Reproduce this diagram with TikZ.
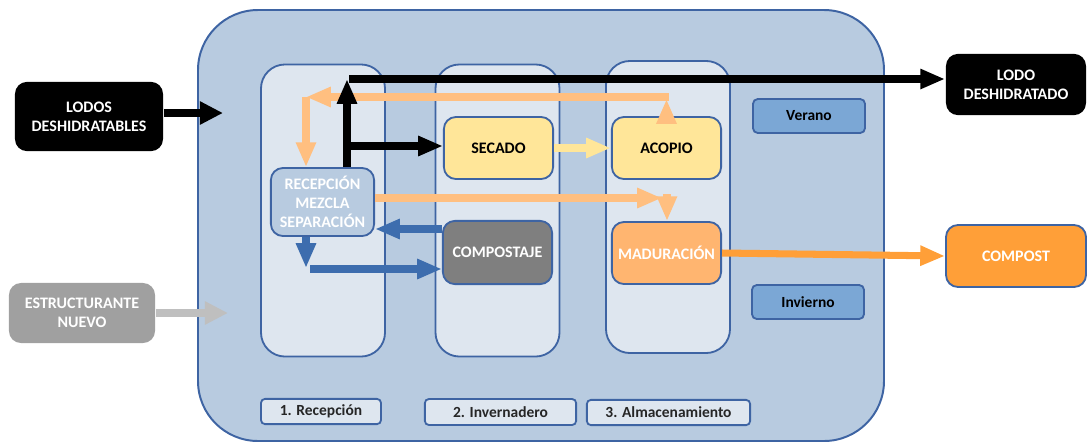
\documentclass[tikz,border=0pt]{standalone}
\usepackage{fontspec}
\setmainfont{Carlito}
\usetikzlibrary{arrows.meta}

\begin{document}
\begin{tikzpicture}[x=0.025cm,y=-0.025cm,
    box/.style={draw=bordeblue,line width=1.3pt,rounded corners=0.3cm,align=center,
      inner sep=0pt,font=\bfseries\fontsize{11.4}{13.5}\selectfont},
    outbox/.style={box,draw=none,text=white},
    colbox/.style={draw=bordeblue,line width=1.3pt,fill=colfill,rounded corners=0.6cm,
      minimum width=3.1cm,minimum height=7.3cm},
    etiqueta/.style={box,fill=colfill,rounded corners=0.1cm,text=black!85,
      font=\bfseries\fontsize{11}{12}\selectfont},
    temporada/.style={box,fill=azulclaro,rounded corners=0.12cm,minimum width=2.8cm,
      minimum height=0.85cm,font=\bfseries\fontsize{11}{12}\selectfont},
    flecha/.style={line width=5pt,-{Triangle[length=0.62cm,width=0.47cm]}},
    gruesa/.style={line width=6pt,-{Triangle[length=0.58cm,width=0.55cm]}}]

  \definecolor{bordeblue}{RGB}{62,100,163}
  \definecolor{fondo}{RGB}{184,203,224}
  \definecolor{colfill}{RGB}{222,230,239}
  \definecolor{amarillo}{RGB}{255,230,153}
  \definecolor{madura}{RGB}{255,181,112}
  \definecolor{naranja}{RGB}{255,159,56}
  \definecolor{naranjaclaro}{RGB}{255,191,128}
  \definecolor{azul}{RGB}{61,109,174}
  \definecolor{azulclaro}{RGB}{123,167,213}
  \definecolor{gris}{RGB}{160,160,160}
  \definecolor{grisclaro}{RGB}{191,191,191}
  \definecolor{grisoscuro}{RGB}{127,127,127}

  \useasboundingbox (0,0) rectangle (1088,443);

  % planta
  \draw[bordeblue,line width=1.4pt,fill=fondo,rounded corners=1.5cm] (198,10) rectangle (884,441);
  \node[colbox] (col1) at (323,210.5) {};
  \node[colbox] (col2) at (497.5,210.5) {};
  \node[colbox] (col3) at (668,207) {};

  % etiquetas de zona
  \node[etiqueta,minimum width=3.0cm,minimum height=0.63cm] (zona1) at (321,411.5) {1. Recepción};
  \node[etiqueta,minimum width=3.78cm,minimum height=0.65cm] (zona2) at (500.5,412) {2. Invernadero};
  \node[etiqueta,minimum width=4.08cm,minimum height=0.63cm] (zona3) at (668.5,412.5) {3. Almacenamiento};

  % entradas y salidas
  \node[outbox,fill=black,minimum width=3.7cm,minimum height=1.73cm] (lodos) at (89,116.5) {LODOS\\DESHIDRATABLES};
  \node[outbox,fill=gris,minimum width=3.65cm,minimum height=1.5cm] (estruct) at (82,313) {ESTRUCTURANTE\\NUEVO};
  \node[outbox,fill=black,minimum width=3.5cm,minimum height=1.53cm] (lodoout) at (1016,84.5) {LODO\\DESHIDRATADO};
  \node[box,fill=naranja,text=white,minimum width=3.5cm,minimum height=1.55cm] (compost) at (1016,256) {COMPOST};

  % temporadas
  \node[temporada] (verano) at (809,116) {Verano};
  \node[temporada] (invierno) at (808,302) {Invierno};

  % procesos
  \node[box,fill=fondo,text=white,minimum width=2.58cm,minimum height=1.7cm] (recep) at (322.5,202) {RECEPCIÓN\\MEZCLA\\SEPARACIÓN};
  \node[box,fill=amarillo,minimum width=2.73cm,minimum height=1.55cm] (secado) at (498.5,148) {SECADO};
  \node[box,fill=amarillo,minimum width=2.73cm,minimum height=1.55cm] (acopio) at (666.5,148) {ACOPIO};
  \node[box,fill=grisoscuro,text=white,minimum width=2.73cm,minimum height=1.58cm] (compostaje) at (497.5,252.5) {COMPOSTAJE};
  \node[box,fill=madura,text=white,minimum width=2.73cm,minimum height=1.55cm] (madur) at (666.5,253) {MADURACIÓN};

  % puntos de giro
  \coordinate (sube) at (347,79);
  \coordinate (retorno) at (306,97);
  \coordinate (baja) at (306,268);

  % flechas
  \draw[gruesa] (lodos.east |- 0,113) -- (223,113);
  \draw[gruesa,grisclaro,line width=5pt] (estruct.east) -- (228,313);
  \draw[flecha,naranjaclaro] (acopio.north) -- (666.5,99);
  \draw[flecha,naranjaclaro] (669,97) -- (retorno);
  \draw[flecha,naranjaclaro] (retorno) -- (recep.north -| retorno);
  \draw[flecha,black] (recep.north -| sube) -- (sube);
  \draw[flecha,black] (349,79) -- (lodoout.west |- sube);
  \draw[flecha,black] (347,146) -- (secado.west |- 0,146);
  \draw[flecha,amarillo] (secado.east) -- (acopio.west);
  \draw[flecha,naranjaclaro] (recep.east |- 0,198) -- (662,198);
  \draw[flecha,naranjaclaro] (667,194) -- (madur.north -| 667,0);
  \draw[flecha,azul] (compostaje.west |- 0,229) -- (recep.east |- 0,229);
  \draw[flecha,azul] (recep.south -| baja) -- (baja);
  \draw[flecha,azul] (310,269) -- (compostaje.west |- 0,269);
  \draw[flecha,naranja] (madur.east) -- (compost.west);
\end{tikzpicture}
\end{document}
